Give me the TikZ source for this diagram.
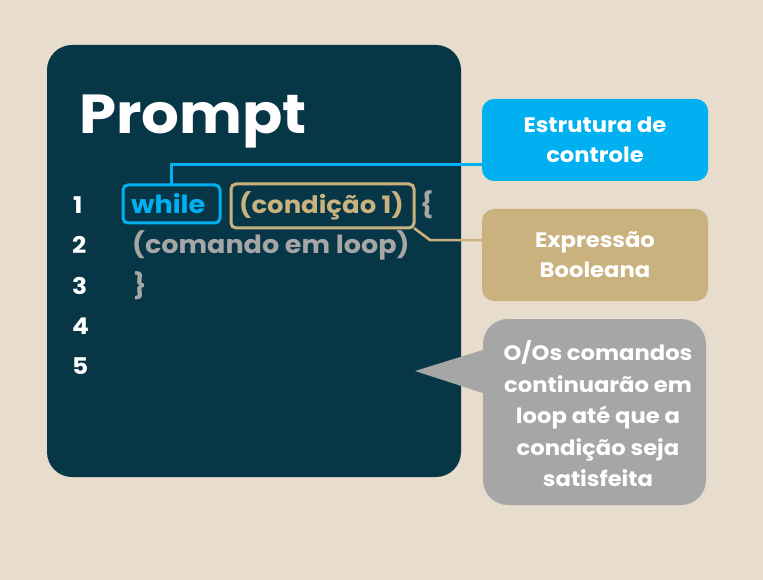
\documentclass[tikz,border=0pt]{standalone}
\usepackage{fontspec}
\setmainfont{Poppins}[FakeStretch=1.08]
\definecolor{bgc}{RGB}{232,220,204}
\definecolor{panelc}{RGB}{7,54,71}
\definecolor{bluec}{RGB}{0,176,240}
\definecolor{tanc}{RGB}{201,178,126}
\definecolor{grayc}{RGB}{166,166,166}
\begin{document}
\begin{tikzpicture}[x=1pt,y=-1pt,
  txt/.style={font=\fontsize{23}{26}\selectfont\bfseries, inner sep=0pt, anchor=base west},
  code/.style={txt, font=\fontsize{25}{28}\selectfont\bfseries},
  num/.style={txt, text=white},
  codebox/.style={draw, line width=3pt, rounded corners=5pt, inner sep=0pt},
  infobox/.style={fill=#1, rounded corners=12pt, text=white, align=center, minimum width=226pt,
     font=\fontsize{21}{30}\selectfont\bfseries, inner sep=0pt},
  link/.style={line width=2.6pt}]
\fill[bgc] (0,0) rectangle (763,580);
\useasboundingbox (0,0) rectangle (763,580);
\fill[panelc, rounded corners=25pt] (47,45) rectangle (461,477);
\node[txt, text=white, font=\fontsize{55}{70}\selectfont\bfseries] (title) at (79,134) {Prompt};
\node[num] (n1) at (73,214) {1};
\node[num] (n2) at (72,254) {2};
\node[num] (n3) at (72,294) {3};
\node[num] (n4) at (72,334) {4};
\node[num] (n5) at (72,374) {5};
\node[code, text=bluec] (wt) at (131,214) {while};
\node[code, text=tanc, font=\fontsize{24}{28}\selectfont\bfseries] (ct) at (239,214) {(condição 1)};
\node[code, text=grayc] (ob) at (420,214) {\{};
\node[code, text=grayc] (cl) at (132,254) {(comando em loop)};
\node[code, text=grayc] (cb) at (133,294) {\}};
\draw[codebox, bluec] (123,185) rectangle (220,223);
\node[minimum width=97pt, minimum height=38pt, inner sep=0pt] (while) at (171.5,204) {};
\draw[codebox, tanc] (231,184) rectangle (414,228);
\node[minimum width=183pt, minimum height=44pt, inner sep=0pt] (cond) at (322.5,206) {};
\node[infobox=bluec, minimum height=82pt] (estr) at (595,140) {Estrutura de\\controle};
\node[infobox=tanc, minimum height=92pt] (expr) at (595,255) {Expressão\\Booleana};
\node[fill=grayc, rounded corners=25pt, minimum width=223pt, minimum height=186pt, inner sep=0pt] (note) at (594.5,412) {};
\coordinate (tip) at (415,371);
\fill[grayc] (tip) -- (note.west |- 0,350) -- (note.west |- 0,393) -- cycle;
\node[text=white, align=center, font=\fontsize{21}{31.5}\selectfont\bfseries, inner sep=0pt] (notetext) at (598,414)
  {O/Os comandos\\continuarão em\\loop até que a\\condição seja\\satisfeita};
\draw[link, bluec] (while.north) -- ++(0,-20) coordinate (bk) -- (bk -| estr.west);
\draw[link, tanc] (cond.south east) -- ++(16,12) coordinate (tk) -- (tk -| expr.west);
\end{tikzpicture}
\end{document}
